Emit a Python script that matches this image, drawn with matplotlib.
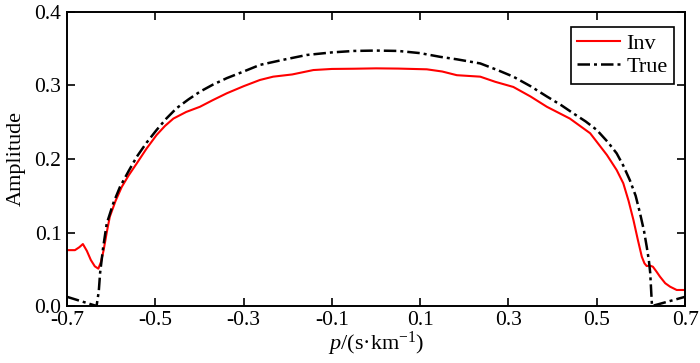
import matplotlib
matplotlib.use('Agg')
import matplotlib.pyplot as plt

plt.rcParams['font.family'] = ['Liberation Serif', 'DejaVu Serif']
plt.rcParams['mathtext.fontset'] = 'custom'
plt.rcParams['mathtext.rm'] = 'Liberation Serif'
plt.rcParams['mathtext.it'] = 'Liberation Serif:italic'

# curves
p_true = [-0.700, -0.633, -0.628, -0.625, -0.618, -0.610, -0.595, -0.580, -0.560, -0.542,
          -0.520, -0.497, -0.475, -0.452, -0.425, -0.399, -0.370, -0.338, -0.300, -0.263,
          -0.210, -0.157, -0.100, -0.050, 0.000, 0.050, 0.100, 0.145, 0.183, 0.236,
          0.275, 0.311, 0.350, 0.387, 0.420, 0.447, 0.475, 0.500, 0.525, 0.545,
          0.560, 0.575, 0.588, 0.598, 0.607, 0.613, 0.618, 0.621, 0.625, 0.700]
amp_true = [0.0125, 0.000, 0.020, 0.045, 0.080, 0.112, 0.140, 0.162, 0.184, 0.203,
            0.222, 0.2395, 0.255, 0.269, 0.281, 0.2915, 0.301, 0.310, 0.319, 0.328,
            0.335, 0.3415, 0.345, 0.347, 0.3475, 0.347, 0.344, 0.339, 0.3356, 0.330,
            0.321, 0.312, 0.299, 0.285, 0.273, 0.262, 0.251, 0.2395, 0.223, 0.2077,
            0.191, 0.171, 0.150, 0.126, 0.102, 0.081, 0.062, 0.045, 0.000, 0.0125]

p_inv = [-0.700, -0.682, -0.672, -0.664, -0.655, -0.646, -0.637, -0.629, -0.623, -0.617,
         -0.610, -0.603, -0.590, -0.576, -0.560, -0.542, -0.520, -0.497, -0.478, -0.459,
         -0.430, -0.399, -0.370, -0.338, -0.300, -0.263, -0.233, -0.190, -0.142, -0.100,
         -0.050, 0.000, 0.050, 0.115, 0.150, 0.183, 0.236, 0.270, 0.311, 0.350,
         0.387, 0.439, 0.485, 0.523, 0.545, 0.560, 0.572, 0.583, 0.593, 0.602,
         0.608, 0.613, 0.620, 0.627, 0.635, 0.643, 0.655, 0.666, 0.681, 0.700]
amp_inv = [0.076, 0.076, 0.080, 0.0843, 0.075, 0.0626, 0.054, 0.0508, 0.060, 0.076,
           0.100, 0.1215, 0.143, 0.162, 0.178, 0.194, 0.214, 0.2327, 0.245, 0.255,
           0.264, 0.271, 0.280, 0.2894, 0.299, 0.3075, 0.312, 0.315, 0.321, 0.3225,
           0.3228, 0.3233, 0.3230, 0.322, 0.319, 0.314, 0.312, 0.305, 0.298, 0.285,
           0.271, 0.255, 0.235, 0.2054, 0.185, 0.167, 0.143, 0.117, 0.090, 0.067,
           0.058, 0.0544, 0.055, 0.0535, 0.047, 0.040, 0.031, 0.0263, 0.0218, 0.0218]

x_ticks = [-0.7, -0.5, -0.3, -0.1, 0.1, 0.3, 0.5, 0.7]
y_ticks = [0.0, 0.1, 0.2, 0.3, 0.4]

fig = plt.figure(figsize=(7, 3.63), dpi=100)
ax = fig.add_axes([0.0957, 0.157, 0.883, 0.81])

ax.plot(p_inv, amp_inv, color='red', lw=1.5, label='Inv')
ax.plot(p_true, amp_true, color='black', lw=1.8, linestyle=(0, (5, 1.6, 1.2, 1.6)), label='True')

ax.set_xlim(-0.7, 0.7)
ax.set_ylim(0, 0.4)
ax.set_xticks(x_ticks)
ax.set_xticklabels(['%.1f' % v for v in x_ticks])
ax.set_yticks(y_ticks)
ax.set_yticklabels(['%.1f' % v for v in y_ticks])
ax.tick_params(direction='in', top=True, right=True, length=6, width=1.2,
               labelsize=15.5)
ax.tick_params(axis='x', pad=3.5)
ax.tick_params(axis='y', pad=4)
for s in ax.spines.values():
    s.set_linewidth(1.4)

ax.set_xlabel(r'$p$/(s·km$^{-1}$)', fontsize=16, labelpad=0)
ax.set_ylabel('Amplitude', fontsize=16, labelpad=6)

leg = ax.legend(loc='upper right', bbox_to_anchor=(1 - 11 / 618, 1 - 15 / 294),
                borderaxespad=0, fontsize=16, fancybox=False, framealpha=1,
                edgecolor='black', borderpad=0.3, handlelength=1.9,
                handletextpad=0.3, labelspacing=0.1)
leg.get_frame().set_linewidth(1.2)

fig.savefig('out.png', dpi=100)
